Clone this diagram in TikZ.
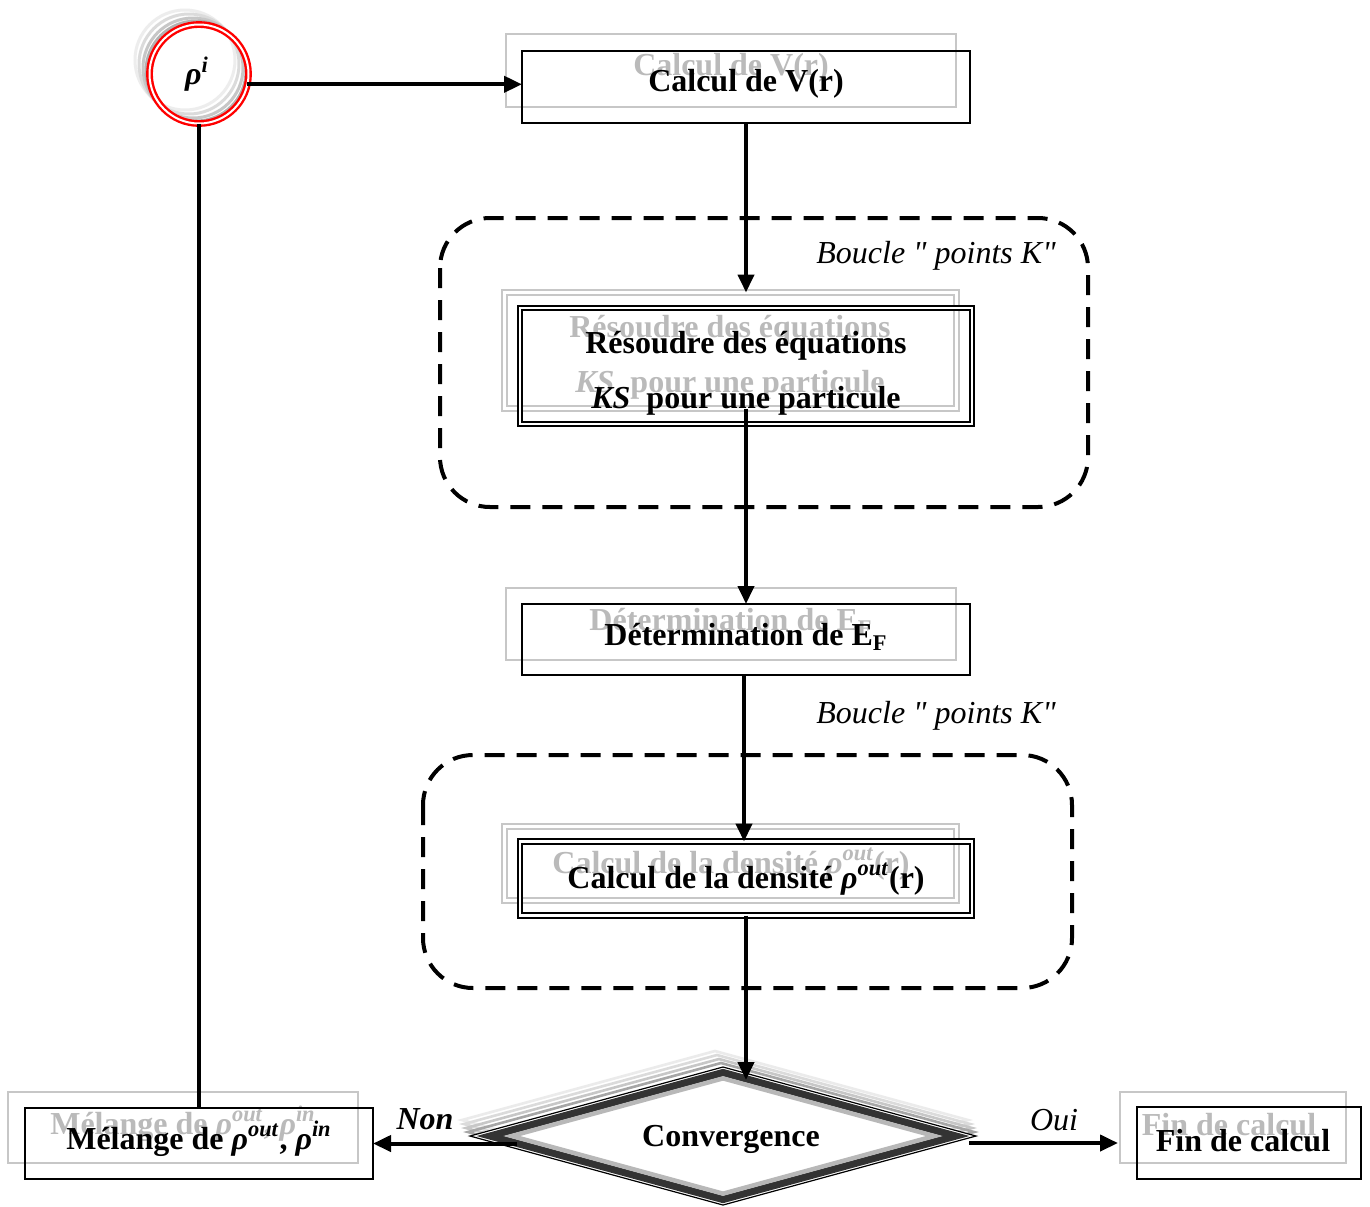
\documentclass[tikz,border=0pt]{standalone}
\usepackage{fontspec}
\setmainfont{Liberation Serif}
\usetikzlibrary{arrows.meta,calc,shapes.geometric}
\newcommand\rhoit{\textit{ρ}}
\newcommand\myexp[1]{\textsuperscript{\textit{#1}}}
\begin{document}
\begin{tikzpicture}[x=0.5pt,y=-0.5pt,
  every node/.style={font=\fontsize{16}{19}\selectfont\bfseries, inner sep=0pt, outer sep=0pt},
  mainbox/.style={draw=black, line width=0.9pt},
  ghostbox/.style={draw=black!22, line width=0.9pt, text=black!27},
  dblbox/.style={draw=black, line width=0.9pt, double=white, double distance=1.3pt},
  ghostdbl/.style={draw=black!22, line width=0.9pt, double=white, double distance=1.3pt, text=black!27},
  conn/.style={line width=2pt},
  arr/.style={conn, -{Triangle[length=9pt,width=8pt]}},
  loopbox/.style={line width=2pt, dash pattern=on 10pt off 6pt, rounded corners=25pt},
  lbl/.style={font=\fontsize{16}{19}\selectfont\itshape},
  twoline/.style={align=center, font=\fontsize{16}{27.5}\selectfont\bfseries}
]
\path[use as bounding box, fill=white] (0,0) rectangle (1370,1206);

% dashed loops
\draw[loopbox] (440,218) rectangle (1088,507);
\draw[loopbox] (423,755) rectangle (1072,988);
\node[lbl] (lbl1) at (936,256) {Boucle \textquotedbl{} points K\textquotedbl};
\node[lbl] (lbl2) at (936,716) {Boucle \textquotedbl{} points K\textquotedbl};

% start circle
\draw[black!7, line width=1.5pt] (185,60) circle[radius=25pt];
\draw[black!14, line width=1.5pt] (189,64) circle[radius=25pt];
\draw[black!22, line width=1.5pt] (193,68) circle[radius=25pt];
\draw[black!30, line width=1.5pt] (196,71) circle[radius=25pt];
\node[circle, draw=red, line width=1.2pt, double=white, double distance=1pt, minimum size=49.5pt] (rho) at (199,74) {};
\node (rholbl) at (197,74) {\rhoit\myexp{i}};

% Calcul de V(r)
\node[ghostbox, minimum width=225pt, minimum height=36.5pt] (calcVg) at (731,70.5) {};
\node[text=black!27] (calcVgt) at (731,68) {Calcul de V(r)};
\node[mainbox, minimum width=224pt, minimum height=36pt] (calcV) at (746,87) {};
\node (calcVt) at (746,84) {Calcul de V(r)};

% Resoudre
\node[ghostdbl, minimum width=226pt, minimum height=58pt] (resg) at (730.5,350.5) {};
\node[twoline, text=black!27] (resgt) at (730,357) {Résoudre des équations\\\textit{KS}\ \ pour une particule};
\node[dblbox, minimum width=226pt, minimum height=58pt] (res) at (746,366) {};
\node[twoline] (rest) at (746,373) {Résoudre des équations\\\textit{KS}\ \ pour une particule};

% Determination
\node[ghostbox, minimum width=225pt, minimum height=36pt] (detg) at (731,624) {};
\node[text=black!27] (detgt) at (731,622) {Détermination de E\textsubscript{F}};
\node[mainbox, minimum width=224pt, minimum height=35.5pt] (det) at (746,639.5) {};
\node (dett) at (746,637) {Détermination de E\textsubscript{F}};

% Densite
\node[ghostdbl, minimum width=226pt, minimum height=37pt] (densg) at (730.5,863.5) {};
\node[text=black!27] (densgt) at (731,864) {Calcul de la densité \rhoit\myexp{out}(r)};
\node[dblbox, minimum width=226pt, minimum height=37pt] (dens) at (746,878.5) {};
\node (denst) at (746,879) {Calcul de la densité \rhoit\myexp{out}(r)};

% Convergence diamond
\foreach \dx/\dy/\c in {-8/-16/black!8, -6/-12/black!14, -4/-8/black!22, -2/-4/black!35}
  \draw[\c, line width=1.3pt] (723+\dx,1067+\dy) -- (976+\dx,1136+\dy) -- (723+\dx,1205+\dy) -- (470+\dx,1136+\dy) -- cycle;
\node[diamond, draw=black, line width=0.6pt, fill=white, minimum width=253pt, minimum height=69pt, aspect=3.7] (conv) at (723,1136) {};
\draw[black!80, line width=3.6pt, line join=miter]
  ($(conv.center)!0.92!(conv.north)$) -- ($(conv.center)!0.92!(conv.east)$) --
  ($(conv.center)!0.92!(conv.south)$) -- ($(conv.center)!0.92!(conv.west)$) -- cycle;
\draw[black!28, line width=2.2pt, line join=miter]
  ($(conv.center)!0.835!(conv.north)$) -- ($(conv.center)!0.835!(conv.east)$) --
  ($(conv.center)!0.835!(conv.south)$) -- ($(conv.center)!0.835!(conv.west)$) -- cycle;
\node (convt) at (731,1139) {Convergence};

% Melange
\node[ghostbox, minimum width=175pt, minimum height=35.5pt] (melg) at (183,1127.5) {};
\node[text=black!27] (melgt) at (183,1124) {Mélange de \rhoit\myexp{out}, \rhoit\myexp{in}};
\node[mainbox, minimum width=174pt, minimum height=35.5pt] (mel) at (199,1143.5) {};
\node (melt) at (199,1139) {Mélange de \rhoit\myexp{out}, \rhoit\myexp{in}};

% Fin
\node[ghostbox, minimum width=113pt, minimum height=35.5pt] (fing) at (1233,1127.5) {};
\node[text=black!27] (fingt) at (1229,1125) {Fin de calcul};
\node[mainbox, minimum width=112pt, minimum height=36pt] (fin) at (1249,1143) {};
\node (fint) at (1243,1141) {Fin de calcul};

% connectors
\draw[arr] (rho.-12) -- (rho.-12 -| calcV.west);
\draw[conn] (rho.south) -- (rho.south |- mel.north);
\draw[arr] (calcV.south) -- (calcV.south |- resg.north);
\draw[arr] ([yshift=7.5pt]res.south) -- (det.north);
\draw[arr] ([xshift=-1pt]det.south) -- ([xshift=-1pt]dens.north);
\coordinate (convin) at ($(dens.south |- conv.north)+(0,13)$);
\draw[arr] (dens.south) -- (convin);
\coordinate (nonstart) at ($(conv.west |- mel.east)+(47,0)$);
\draw[arr] (nonstart) -- (mel.east);
\coordinate (ouistart) at ($(conv.east |- fin.west)+(-7,0)$);
\coordinate (ouiend) at ($(fin.west)+(-19,0)$);
\draw[arr] (ouistart) -- (ouiend);
\node[font=\fontsize{16}{19}\selectfont\bfseries\itshape] (non) at (425,1119) {Non};
\node[lbl] (oui) at (1054,1120) {Oui};
\end{tikzpicture}
\end{document}
